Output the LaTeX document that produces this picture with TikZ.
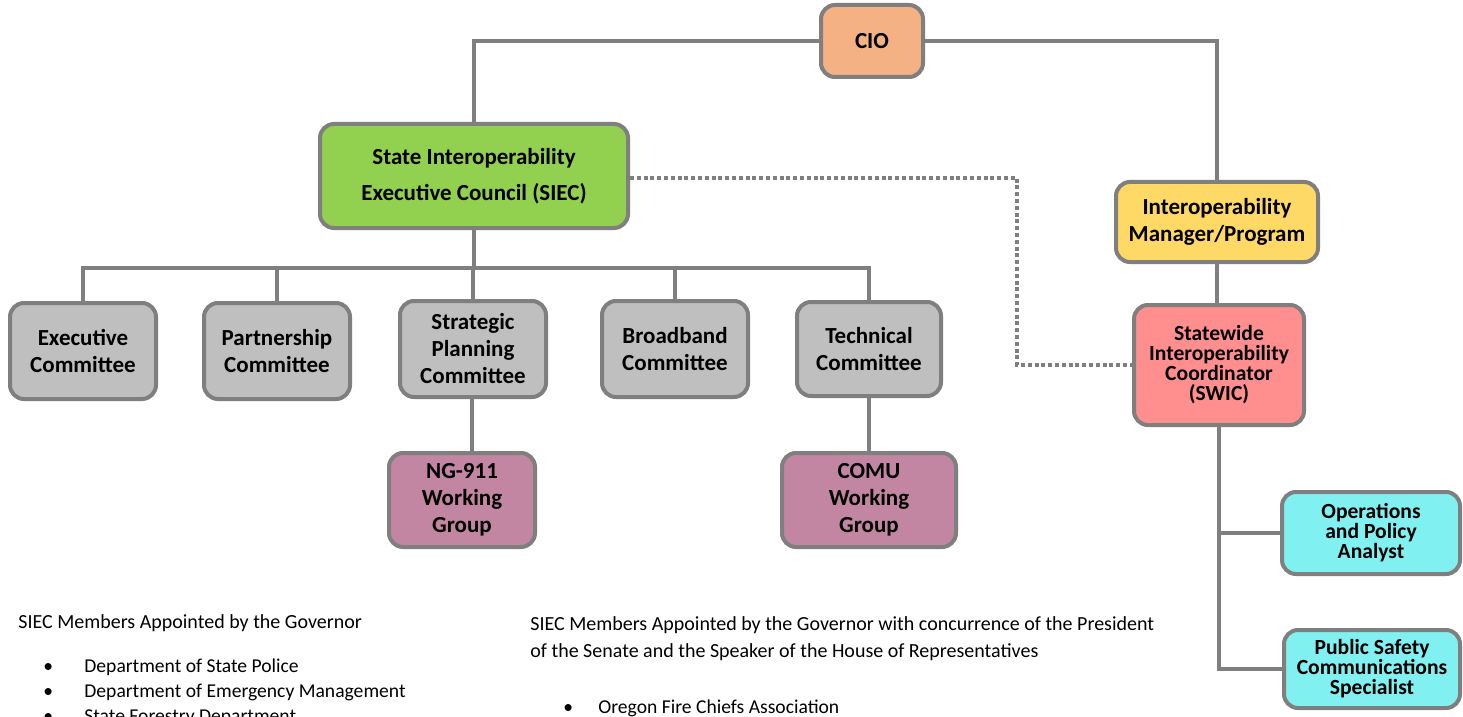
\documentclass[tikz,border=0pt]{standalone}
\usepackage{fontspec}
\setmainfont{Carlito}
\usetikzlibrary{calc}

\definecolor{linegray}{HTML}{7F7F7F}
\definecolor{cioorange}{HTML}{F4B183}
\definecolor{siecgreen}{HTML}{92D050}
\definecolor{mgryellow}{HTML}{FFD966}
\definecolor{swicred}{HTML}{FF8F8F}
\definecolor{comgray}{HTML}{BFBFBF}
\definecolor{wgpurple}{HTML}{C285A2}
\definecolor{staffcyan}{HTML}{80F0F0}

\tikzset{
  box/.style={draw=linegray, line width=2pt, rounded corners=7pt, align=center,
    inner sep=1pt, font=\bfseries\fontsize{11.5}{13.5}\selectfont},
  tight/.style={font=\bfseries\fontsize{10.8}{10}\selectfont},
  link/.style={draw=linegray, line width=2pt},
  dotlink/.style={draw=linegray, line width=2pt, dash pattern=on 2pt off 1.4pt},
  listtext/.style={anchor=base west, inner sep=0pt, font=\fontsize{9.8}{11}\selectfont},
  listhead/.style={anchor=base west, inner sep=0pt, font=\fontsize{10}{13}\selectfont},
}

\begin{document}
\begin{tikzpicture}[x=0.5pt, y=-0.5pt]
  \clip (0,0) rectangle (1463,717);
  \fill[white] (0,0) rectangle (1463,717);

% top level
\node[box, fill=cioorange, minimum width=51pt, minimum height=36pt] (cio) at (872,41) {CIO};
\node[box, fill=siecgreen, minimum width=154pt, minimum height=52pt,
  font=\bfseries\fontsize{11.5}{18}\selectfont] (siec) at (474,176)
  {State Interoperability\\Executive Council (SIEC)};
\node[box, fill=mgryellow, minimum width=101pt, minimum height=40pt] (mgr) at (1217,222)
  {Interoperability\\Manager/Program};
\node[box, tight, fill=swicred, minimum width=85pt, minimum height=60pt] (swic) at (1219,365)
  {Statewide\\Interoperability\\Coordinator\\(SWIC)};

% committees
\node[box, fill=comgray, minimum width=73pt, minimum height=48pt] (exec) at (83,351) {Executive\\Committee};
\node[box, fill=comgray, minimum width=73pt, minimum height=48pt] (part) at (277,351) {Partnership\\Committee};
\node[box, fill=comgray, minimum width=73pt, minimum height=48pt] (strat) at (473,349) {Strategic\\Planning\\Committee};
\node[box, fill=comgray, minimum width=73pt, minimum height=48pt] (broad) at (675,349) {Broadband\\Committee};
\node[box, fill=comgray, minimum width=72pt, minimum height=47pt] (tech) at (869,349) {Technical\\Committee};

% working groups
\node[box, fill=wgpurple, minimum width=73pt, minimum height=47pt] (ng) at (462,500) {NG-911\\Working\\Group};
\node[box, fill=wgpurple, minimum width=87pt, minimum height=47pt] (comu) at (869,500) {COMU\\Working\\Group};

% staff
\node[box, tight, fill=staffcyan, minimum width=89pt, minimum height=41pt] (ops) at (1371,533)
  {Operations\\and Policy\\Analyst};
\node[box, tight, fill=staffcyan, minimum width=88pt, minimum height=39pt] (pss) at (1372,669)
  {Public Safety\\Communications\\Specialist};

\coordinate (bus) at (474,268);
\coordinate (bend) at (1017,178);

\draw[link] (cio.west) -| (siec.north);
\draw[link] (cio.east) -| (mgr.north);
\draw[link] (mgr.south) -- (mgr.south |- swic.north);
\draw[link] (siec.south) -- (bus);
\draw[link] (exec.north) |- (tech.north |- bus) -- (tech.north);
\foreach \c in {part,strat,broad}
  \draw[link] (\c.north) -- (\c.north |- bus);
\draw[link] ($(strat.south)+(-1,0)$) -- ($(strat.south |- ng.north)+(-1,0)$);
\draw[link] (tech.south) -- (comu.north);
\draw[dotlink] (siec.east |- bend) -- (bend) |- (swic.west);
\draw[link] (swic.south) |- (pss.west);
\draw[link] (swic.south |- ops.west) -- (ops.west);

% members lists
\node[listhead] (govhead) at (18,628) {SIEC Members Appointed by the Governor};
\node[listtext] (b1) at (43,672) {\textbullet};
\node[listtext] (police) at (84,672) {Department of State Police};
\node[listtext] (b2) at (43,697) {\textbullet};
\node[listtext] (oem) at (84,697) {Department of Emergency Management};
\node[listtext] (b3) at (43,722) {\textbullet};
\node[listtext] (forestry) at (84,722) {State Forestry Department};

\node[listhead] (conhead) at (530,630) {SIEC Members Appointed by the Governor with concurrence of the President};
\node[listhead] (conhead2) at (530,657) {of the Senate and the Speaker of the House of Representatives};
\node[listtext] (b4) at (563,713) {\textbullet};
\node[listtext] (firechiefs) at (598,713) {Oregon Fire Chiefs Association};
\end{tikzpicture}
\end{document}
